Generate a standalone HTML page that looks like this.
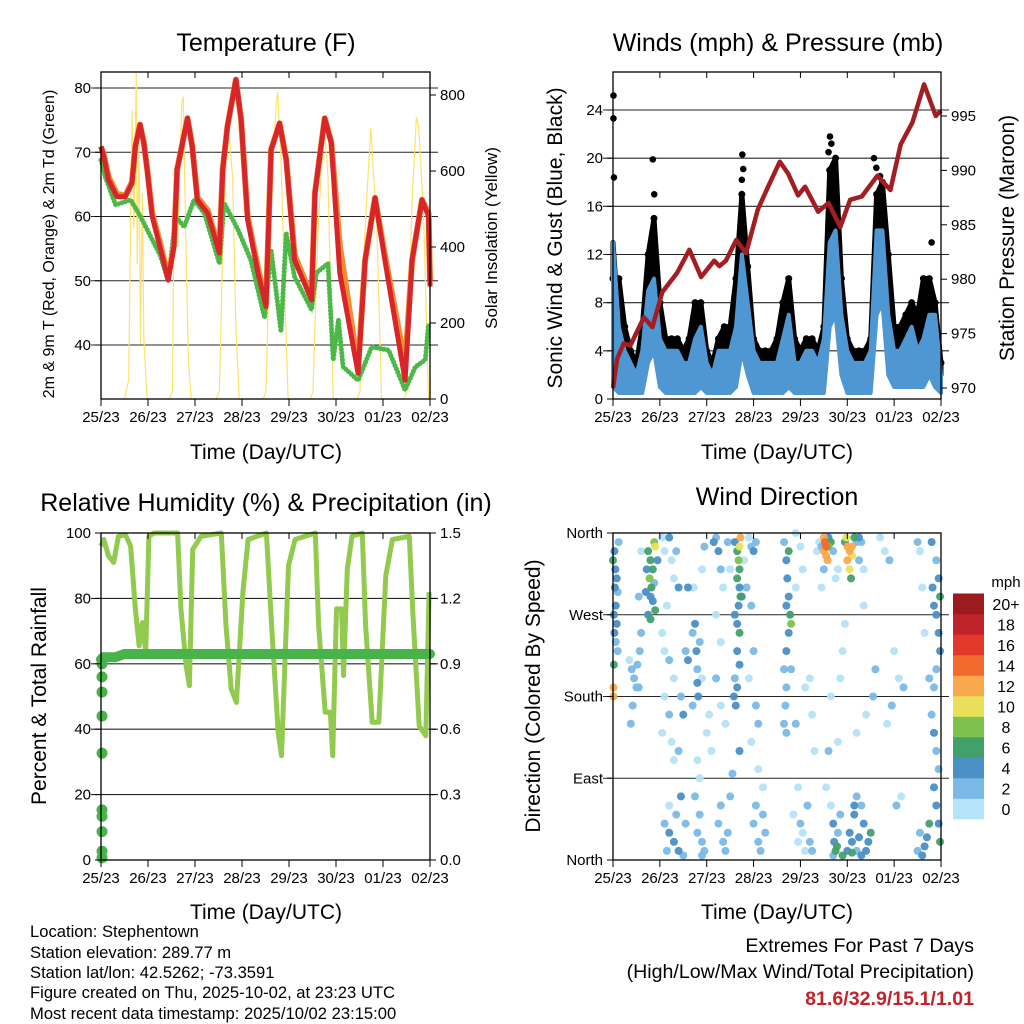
<!DOCTYPE html>
<html><head><meta charset="utf-8"><style>
html,body{margin:0;padding:0;background:#fff;}
svg{display:block;font-family:"Liberation Sans",Arial,sans-serif;}
</style></head><body>
<svg id="fig" width="1024" height="1024" viewBox="0 0 1024 1024" xmlns="http://www.w3.org/2000/svg">
<g id="layer"></g>
<g font-size="25" text-anchor="middle" fill="#000">
<text x="266" y="51">Temperature (F)</text>
<text x="778" y="51">Winds (mph) &amp; Pressure (mb)</text>
<text x="266" y="511">Relative Humidity (%) &amp; Precipitation (in)</text>
<text x="777" y="505">Wind Direction</text>
</g>
<g fill="#000" text-anchor="middle">
<text transform="translate(54,244) rotate(-90)" font-size="16">2m &amp; 9m T (Red, Orange) &amp; 2m Td (Green)</text>
<text transform="translate(497,238) rotate(-90)" font-size="17">Solar Insolation (Yellow)</text>
<text transform="translate(562,238) rotate(-90)" font-size="21">Sonic Wind &amp; Gust (Blue, Black)</text>
<text transform="translate(1014,238) rotate(-90)" font-size="21">Station Pressure (Maroon)</text>
<text transform="translate(46,696) rotate(-90)" font-size="21">Percent &amp; Total Rainfall</text>
<text transform="translate(540,696) rotate(-90)" font-size="21">Direction (Colored By Speed)</text>
<text x="266" y="459" font-size="21">Time (Day/UTC)</text>
<text x="777" y="459" font-size="21">Time (Day/UTC)</text>
<text x="266" y="919" font-size="21">Time (Day/UTC)</text>
<text x="777" y="919" font-size="21">Time (Day/UTC)</text>
</g>
<g font-size="16.6" fill="#000">
<text x="30" y="937">Location: Stephentown</text>
<text x="30" y="958">Station elevation: 289.77 m</text>
<text x="30" y="978">Station lat/lon: 42.5262; -73.3591</text>
<text x="30" y="998">Figure created on Thu, 2025-10-02, at 23:23 UTC</text>
<text x="30" y="1019">Most recent data timestamp: 2025/10/02 23:15:00</text>
</g>
<g font-size="19.6" text-anchor="end">
<text x="974" y="952">Extremes For Past 7 Days</text>
<text x="974" y="978">(High/Low/Max Wind/Total Precipitation)</text>
<text x="974" y="1005" fill="#c1232a" font-weight="bold">81.6/32.9/15.1/1.01</text>
</g>
</svg>
<script>
// ---------- data ----------
const dayLabels=["25/23","26/23","27/23","28/23","29/23","30/23","01/23","02/23"];
const tempT=[0,0.06,0.16,0.34,0.52,0.66,0.73,0.83,0.91,0.98,1.09,1.27,1.43,1.55,1.62,1.84,1.94,2.05,2.27,2.52,2.59,2.69,2.87,2.98,3.12,3.34,3.51,3.62,3.8,3.94,4.12,4.48,4.55,4.76,4.9,5.08,5.47,5.62,5.83,6.04,6.47,6.62,6.83,6.97,7.0];
const tempRed=[70.9,69.4,65.7,63.1,63.1,65.2,70.9,74.3,71.4,67.3,60,54.8,50.1,55.3,67.3,75.3,70.9,62.6,60.5,54.3,67.3,74,81.3,75.1,59.5,51.2,46,70.4,74.5,68.8,53.2,47,63.6,75.3,71.4,51.2,35.6,53.2,62.9,53.2,34.5,53.2,62.6,60,49.1];
const tempOrange=[70.9,69.6,66.2,63.5,63.3,65.4,70.9,74.3,71.6,67.5,60.5,55.5,50.5,55.5,67.3,75.3,71,63,61,54.8,67.3,74,81.3,75.1,60,52,46.5,70.4,74.5,69,54,47.5,63.6,75.3,71.6,55.5,36.5,53.2,62.9,54,37,53.2,62.6,60.5,50];
const dewT=[0,0.09,0.31,0.63,0.84,1.27,1.43,1.59,1.77,1.98,2.2,2.52,2.62,2.91,3.19,3.48,3.62,3.83,3.94,4.12,4.48,4.58,4.83,4.94,5.05,5.15,5.47,5.76,6.12,6.47,6.69,6.9,6.97];
const dewV=[68.8,66.2,61.8,62.6,60,53.8,49.9,60,58.4,62.6,60.5,52.7,62.1,58,53.2,44.2,54.8,42.1,57.4,50.6,45.5,51.2,52.7,37.7,43.9,36.6,34.5,39.7,39.2,33,36.6,37.7,43.4];
const solarT=[0.5,0.59,0.66,0.70,0.75,0.77,0.81,0.84,0.88,0.91,0.98,1.45,1.52,1.55,1.63,1.68,1.72,1.75,1.80,1.86,1.92,2.45,2.52,2.59,2.66,2.73,2.80,2.87,2.94,3.45,3.51,3.62,3.73,3.76,3.83,3.91,3.98,4.45,4.51,4.62,4.73,4.76,4.83,4.94,5.45,5.51,5.62,5.74,5.87,5.97,6.45,6.51,6.62,6.71,6.76,6.86,6.97];
const solarV=[0,50,760,450,858,355,673,147,542,163,0,0,20,450,400,629,779,795,450,103,0,0,20,392,629,689,584,190,0,0,20,542,779,808,629,279,0,0,20,450,689,708,584,0,0,20,450,713,450,0,0,20,524,742,716,500,0];
const windT=[0,0.125,0.25,0.375,0.5,0.625,0.75,0.875,1,1.125,1.25,1.375,1.5,1.625,1.75,1.875,2,2.125,2.25,2.375,2.5,2.625,2.75,2.875,3,3.125,3.25,3.375,3.5,3.625,3.75,3.875,4,4.125,4.25,4.375,4.5,4.625,4.75,4.875,5,5.125,5.25,5.375,5.5,5.625,5.75,5.875,6,6.125,6.25,6.375,6.5,6.625,6.75,6.875,7];
const windHigh=[13,6,4,3,2,4,9,10,5,4,4,4,3,3,5,6,3,2,4,4,4,6,12,8,4,3,3,3,3,5,7,3,3,4,4,3,5,13,14,7,4,3,3,3,4,14,14,7,4,4,5,6,4,5,7,7,2];
const windLow=[1,0.5,0.5,0.5,0.5,0.5,3,4,1,0.5,0.5,0.5,0.5,0.5,0.5,1,0.5,0.5,0.5,0.5,0.5,1,4,2,0.5,0.5,0.5,0.5,0.5,0.5,1,0.5,0.5,0.5,0.5,0.5,0.5,6,7,2,0.5,0.5,0.5,0.5,0.5,7,8,2,1,1,1,1,1,1,2,1,0.5];
const gustV=[10,10,6,4,3,6,12,15,8,5,5,5,4,5,8,8,4,3,5,6,6,10,17,11,5,4,4,4,5,8,10,5,4,5,5,4,6,19,20,10,5,4,4,4,5,17,18,12,6,6,7,8,7,10,10,8,3];
const gustOutT=[0.01,0.01,0.02,0.85,0.88,2.76,2.78,2.75,4.63,4.66,4.6,5.57,5.62,5.7,3.78,6.8];
const gustOutV=[25.2,23.3,18.4,19.9,17,20.3,19.1,18.2,21.8,21.2,20.5,20,19.2,18.5,7.5,13];
const pressT=[0,0.09,0.23,0.37,0.66,0.84,1.05,1.37,1.63,1.88,2.16,2.27,2.41,2.63,2.84,3.09,3.31,3.56,3.74,3.95,4.1,4.38,4.6,4.85,5.06,5.31,5.64,5.92,6.14,6.39,6.64,6.89,7];
const pressV=[970,972.7,974.1,973.9,976.5,975.6,978.8,980.6,982.7,980.2,981.7,981.2,981.7,983.6,982.4,986.4,988.5,990.8,989.7,987.7,988.5,986.2,987,984.8,987.3,987.6,989.5,988.2,992.4,994.4,997.9,995,995.5];
const rhT=[0,0.06,0.16,0.27,0.37,0.52,0.63,0.73,0.81,0.88,0.95,1.02,1.13,1.63,1.7,1.81,1.88,1.95,2.13,2.56,2.66,2.77,2.88,3.02,3.13,3.52,3.63,3.77,3.84,3.99,4.13,4.56,4.63,4.77,4.88,4.93,5.01,5.12,5.16,5.24,5.34,5.56,5.63,5.77,5.91,6.06,6.2,6.56,6.63,6.77,6.91,6.98];
const rhV=[96,98,93,91,99,99.5,96,77,65.5,72.6,63.5,99,100,100,77,59.4,53.3,95,99,100,71.7,52.3,48.2,81.9,98,100,71.7,39,31.9,90,98,100,71.7,45.2,45.2,31.9,76.8,76.8,56.4,89,99,100,71.7,42.1,42.1,87,98,99,77,41,38,81.9];
const precipDotT=[0,0,0,0,0,0,0,0,0,0];
const precipDotV=[0.01,0.04,0.13,0.2,0.23,0.49,0.66,0.77,0.84,0.9];
const precipT=[0,0.05,0.3,0.5,7];
const precipV=[0.92,0.93,0.93,0.945,0.945];
const dirT=[0.03,0.05,0.08,0.04,0.1,0.06,0.02,0.03,0.06,0.1,0.02,0.01,0.01,0.08,0.12,0.0,
0.4,0.45,0.5,0.42,0.38,0.55,0.35,0.52,0.6,0.55,0.6,0.57,
0.75,0.8,0.85,0.78,0.82,0.7,0.85,0.9,0.75,0.8,0.88,0.9,0.95,0.72,0.8,0.88,
1.05,1.1,1.2,1.25,1.35,1.3,1.4,1.15,1.05,1.1,1.2,1.3,1.1,1.2,1.05,1.25,1.3,1.4,1.5,1.45,1.2,1.1,1.2,1.3,1.4,1.15,1.35,1.45,1.55,1.5,1.55,1.6,1.6,
1.75,1.78,1.8,1.8,1.82,1.7,1.85,1.72,1.9,1.95,1.9,1.7,1.8,1.85,1.9,1.95,1.75,1.85,1.9,1.8,2.0,2.05,2.1,
2.15,2.2,2.25,2.3,2.35,2.2,2.3,2.2,2.3,2.4,2.25,2.3,2.35,2.4,2.45,2.5,2.55,2.45,2.5,
2.65,2.68,2.7,2.65,2.7,2.72,2.68,2.6,2.65,2.7,2.65,2.7,2.6,2.65,2.58,2.62,2.7,2.6,2.72,2.7,2.75,2.8,2.85,
2.9,2.95,3.0,3.05,2.95,3.0,2.9,3.05,3.1,2.95,3.0,3.05,3.1,3.15,3.2,3.25,3.2,3.1,
3.7,3.72,3.75,3.78,3.7,3.75,3.7,3.65,3.7,3.68,3.65,3.7,3.75,3.65,3.8,3.8,
3.9,4.0,4.05,3.9,4.2,4.25,4.1,3.95,4.0,4.05,4.15,4.2,4.25,3.85,3.95,4.1,4.3,3.9,
4.5,4.52,4.55,4.5,4.55,4.6,4.6,4.65,4.58,4.45,4.4,4.35,4.7,4.8,4.75,4.5,4.45,
4.95,5.0,5.05,5.0,5.1,5.05,5.15,5.1,4.98,5.2,5.25,5.3,5.25,5.35,5.08,
4.7,4.72,4.75,4.7,4.8,4.85,4.78,4.9,4.6,4.65,4.55,4.8,4.85,4.9,4.95,4.65,
5.0,5.05,5.1,5.15,5.2,5.25,5.3,5.35,5.2,5.15,5.3,5.1,5.45,5.4,5.5,5.55,5.6,5.2,5.4,5.35,
6.82,6.85,6.9,6.95,6.98,6.9,6.85,6.8,6.85,6.9,6.95,6.85,6.9,6.95,6.98,6.8,6.9,6.95,6.98,
6.5,6.55,6.6,6.65,6.75,6.6,6.65,6.55,6.7,6.75,6.5,5.7,5.8,5.9,6.0,6.1,6.2,5.95,5.85,6.05,6.15];
const dirD=[340,320,310,300,295,280,270,250,240,230,215,190,180,260,350,330,
210,200,190,170,150,190,220,215,340,290,250,230,
340,330,320,310,300,295,285,275,270,265,350,345,330,320,290,305,
355,340,355,330,340,310,300,280,250,230,220,200,180,160,140,130,110,120,160,180,60,40,30,20,10,10,50,70,40,5,230,300,220,
260,230,210,195,180,250,240,300,320,345,200,170,30,50,20,10,70,90,5,110,140,160,120,
350,355,340,320,300,270,240,200,170,150,40,60,20,10,30,70,95,350,320,
340,330,320,310,300,290,280,270,260,250,230,215,200,190,180,170,120,350,355,345,290,330,300,
355,345,340,350,280,230,200,170,150,130,40,60,20,10,50,30,80,100,
330,310,290,270,280,250,230,210,190,170,150,140,340,350,210,260,
360,345,320,300,200,160,10,20,40,30,60,20,10,50,80,190,120,150,
355,350,345,340,335,345,355,350,330,345,350,340,340,320,310,320,300,
350,345,340,330,335,320,355,345,355,350,355,350,330,320,310,
40,20,10,5,30,50,15,5,120,60,80,130,200,230,260,180,
10,30,20,50,10,25,5,40,70,60,60,8,20,10,30,180,210,140,160,280,
300,280,270,250,230,210,190,160,140,120,100,80,60,40,20,350,330,310,290,
350,340,300,250,200,5,15,30,25,40,10,355,340,330,230,200,190,170,150,60,70];
const dirS=[4,4,4,4,3,4,5,4,3,2,6,12,12,4,2,7,
2,2,2,2,2,2,1,2,1,3,3,3,
6,7,6,8,6,4,4,6,4,7,8,10,4,4,4,3,
1,1,4,1,3,1,4,1,1,1,2,1,1,2,1,1,1,2,4,3,1,3,4,4,4,2,2,4,2,3,2,4,4,
4,4,3,4,4,2,2,1,1,2,1,2,2,2,2,2,2,1,2,1,1,1,1,
4,3,4,3,1,1,1,2,1,1,2,2,2,2,3,3,2,2,1,
6,8,7,6,4,6,5,4,4,6,4,4,3,4,4,4,4,4,12,10,4,1,2,
1,2,4,3,3,2,1,3,2,1,3,2,2,2,2,2,1,1,
4,4,4,6,4,4,4,3,3,2,2,2,6,2,3,8,
1,1,1,1,1,1,1,1,2,1,2,3,2,1,1,1,1,2,
12,14,14,12,12,8,4,6,12,2,1,1,2,1,1,3,1,
6,12,12,12,10,10,6,12,10,3,4,3,2,1,6,
4,4,6,3,2,2,6,7,2,1,1,1,1,1,1,1,
4,4,4,4,3,4,4,4,2,4,3,6,4,4,6,3,2,1,1,1,
4,4,5,4,4,2,2,2,4,3,2,4,4,4,6,4,2,4,6,
2,1,1,1,2,4,4,3,4,6,2,1,1,2,1,1,3,2,1,2,1];
const speedColors=["#b5e3f7","#7ab9e6","#4a8fc6","#42a06a","#7dc24c","#e8e05a","#f9a94b","#f26a2e","#e2382b","#c1232a","#9b1b1e"];
const speedLabels=["0","2","4","6","8","10","12","14","16","18","20+"];

// ---------- helpers ----------
const NS="http://www.w3.org/2000/svg";
const layer=document.getElementById("layer");
function mk(tag,attrs,parent){const e=document.createElementNS(NS,tag);for(const k in attrs)e.setAttribute(k,attrs[k]);(parent||layer).appendChild(e);return e;}
function xAxis(x0,x1){return t=>x0+t/7*(x1-x0);}
function lin(v0,p0,v1,p1){return v=>p0+(v-v0)*(p1-p0)/(v1-v0);}
function pts(T,V,fx,fy){return T.map((t,i)=>fx(t).toFixed(1)+","+fy(V[i]).toFixed(1)).join(" ");}

function frame(x0,x1,y0,y1,name){
  const g=mk("g",{});
  
  
  mk("rect",{x:x0,y:y0,width:x1-x0,height:y1-y0,fill:"none",stroke:"#000","stroke-width":1.3},g);
  const fx=xAxis(x0,x1);
  for(let d=0;d<=7;d++){
    const x=fx(d);
    mk("line",{x1:x,y1:y1,x2:x,y2:y1+7,stroke:"#000","stroke-width":1},g);
    mk("line",{x1:x,y1:y0,x2:x,y2:y0+6,stroke:"#000","stroke-width":1},g);
    const t=mk("text",{x:x,y:y1+23,"font-size":15,"text-anchor":"middle"},g);
    t.textContent=dayLabels[d];
    
    
  }
}
function grid(x0,x1,ys,name){
  ys.forEach(y=>{
    const l=mk("line",{x1:x0-10,y1:y,x2:x1+8,y2:y,stroke:"#000","stroke-width":1.1,opacity:0.85});
    
    
  });
}
function yTicks(x,vals,fy,labels,side,name){
  vals.forEach((v,i)=>{
    const y=fy(v);
    mk("line",{x1:x,y1:y,x2:x+(side==="left"?-6:6),y2:y,stroke:"#000","stroke-width":1});
    const t=mk("text",{x:x+(side==="left"?-10:10),y:y+5,"font-size":15,"text-anchor":side==="left"?"end":"start"});
    t.textContent=labels[i];
    
    
  });
}

// ---------- panel 1: temperature ----------
(function(){
  const x0=101,x1=430,yT=72,yB=399,fx=xAxis(x0,x1);
  const fy=lin(80,88,40,345);
  const fs=lin(0,399,800,95);
  grid(x0,x1,[40,50,60,70,80].map(fy),"temp");
  const sol=mk("polyline",{points:pts(solarT,solarV,fx,fs),fill:"none",stroke:"#fde36a","stroke-width":1.2});
  
  
  const dew=mk("polyline",{points:pts(dewT,dewV,fx,fy),fill:"none",stroke:"#4cb848","stroke-width":5,"stroke-dasharray":"0.1 3.5","stroke-linecap":"round"});
  
  
  const dew2=mk("polyline",{points:pts(dewT,dewV,fx,fy),fill:"none",stroke:"#4cb848","stroke-width":2.5,opacity:0.7});
  
  
  const or=mk("polyline",{points:pts(tempT,tempOrange,fx,fy),fill:"none",stroke:"#f58a30","stroke-width":6,"stroke-linejoin":"round"});
  
  
  const rd=mk("polyline",{points:pts(tempT,tempRed,fx,fy),fill:"none",stroke:"#d7262a","stroke-width":5,"stroke-linejoin":"round"});
  
  
  frame(x0,x1,yT,yB,"temp");
  yTicks(x0,[40,50,60,70,80],fy,["40","50","60","70","80"],"left","temp-left");
  yTicks(x1,[0,200,400,600,800],fs,["0","200","400","600","800"],"right","solar-right");
})();

// ---------- panel 2: winds & pressure ----------
(function(){
  const x0=613,x1=941,yT=72,yB=399,fx=xAxis(x0,x1);
  const fy=lin(0,399,24,110);
  const fp=lin(970,388,995,116);
  grid(x0,x1,[4,8,12,16,20,24].map(fy),"wind");
  const gp=[];
  windT.forEach((t,i)=>gp.push(fx(t).toFixed(1)+","+fy(gustV[i]).toFixed(1)));
  for(let i=windT.length-1;i>=0;i--)gp.push(fx(windT[i]).toFixed(1)+","+fy(windHigh[i]).toFixed(1));
  const ga=mk("polygon",{points:gp.join(" "),fill:"#000",stroke:"#000","stroke-width":5,"stroke-linejoin":"round"});
  
  
  windT.forEach((t,i)=>{
    const c=mk("circle",{cx:fx(t),cy:fy(gustV[i]),r:3.5,fill:"#000"});
    
    
  });
  gustOutT.forEach((t,i)=>{
    const c=mk("circle",{cx:fx(t),cy:fy(gustOutV[i]),r:3.3,fill:"#000"});
    
    
  });
  const area=[];
  windT.forEach((t,i)=>area.push(fx(t).toFixed(1)+","+fy(windHigh[i]).toFixed(1)));
  for(let i=windT.length-1;i>=0;i--)area.push(fx(windT[i]).toFixed(1)+","+fy(windLow[i]).toFixed(1));
  const w=mk("polygon",{points:area.join(" "),fill:"#4f97d3",stroke:"#4f97d3","stroke-width":4,"stroke-linejoin":"round"});
  
  
  const p=mk("polyline",{points:pts(pressT,pressV,fx,fp),fill:"none",stroke:"#a31e22","stroke-width":4.5,"stroke-linejoin":"round"});
  
  
  frame(x0,x1,yT,yB,"wind");
  yTicks(x0,[0,4,8,12,16,20,24],fy,["0","4","8","12","16","20","24"],"left","wind-left");
  yTicks(x1,[970,975,980,985,990,995],fp,["970","975","980","985","990","995"],"right","pressure-right");
})();

// ---------- panel 3: humidity ----------
(function(){
  const x0=101,x1=430,yT=533,yB=860,fx=xAxis(x0,x1);
  const fy=lin(0,860,100,533);
  const fp=lin(0,860,1.5,533);
  grid(x0,x1,[20,40,60,80].map(fy),"rh");
  const rh=mk("polyline",{points:pts(rhT,rhV,fx,fy),fill:"none",stroke:"#92c94f","stroke-width":5,"stroke-linejoin":"round"});
  
  
  const pr=mk("polyline",{points:pts(precipT,precipV,fx,fp),fill:"none",stroke:"#48b348","stroke-width":10,"stroke-linecap":"round"});
  
  
  precipDotT.forEach((t,i)=>{
    const c=mk("circle",{cx:fx(t)+1,cy:fp(precipDotV[i]),r:5.5,fill:"#48b348"});
    
    
  });
  frame(x0,x1,yT,yB,"rh");
  yTicks(x0,[0,20,40,60,80,100],fy,["0","20","40","60","80","100"],"left","rh-left");
  yTicks(x1,[0,0.3,0.6,0.9,1.2,1.5],fp,["0.0","0.3","0.6","0.9","1.2","1.5"],"right","precip-right");
})();

// ---------- panel 4: wind direction ----------
(function(){
  const x0=613,x1=941,yT=533,yB=860,fx=xAxis(x0,x1);
  const fy=lin(0,860,360,533);
  grid(x0,x1,[90,180,270].map(fy),"direction");
  const order=dirS.map((s,i)=>i).sort((a,b)=>dirS[a]-dirS[b]);
  order.forEach(i=>{
    const b=Math.min(10,Math.floor(dirS[i]/2));
    const c=mk("circle",{cx:fx(dirT[i]),cy:fy(dirD[i]),r:4,fill:speedColors[b],opacity:0.95});
    
    
  });
  frame(x0,x1,yT,yB,"direction");
  yTicks(x0,[0,90,180,270,360],fy,["North","East","South","West","North"],"left","direction-left");
  const cb=mk("g",{});
  
  
  const h=20.5;
  speedColors.forEach((col,i)=>{
    const y=819-(i+1)*h;
    const r=mk("rect",{x:953,y:y,width:31,height:h+0.3,fill:col},cb);
    
    
    const t=mk("text",{x:1006,y:y+h/2+6,"font-size":16,"text-anchor":"middle"},cb);
    t.textContent=speedLabels[i];
    
    
  });
  const u=mk("text",{x:1006,y:587,"font-size":15,"text-anchor":"middle"},cb);
  u.textContent="mph";
  
  
})();
</script>
</body></html>
